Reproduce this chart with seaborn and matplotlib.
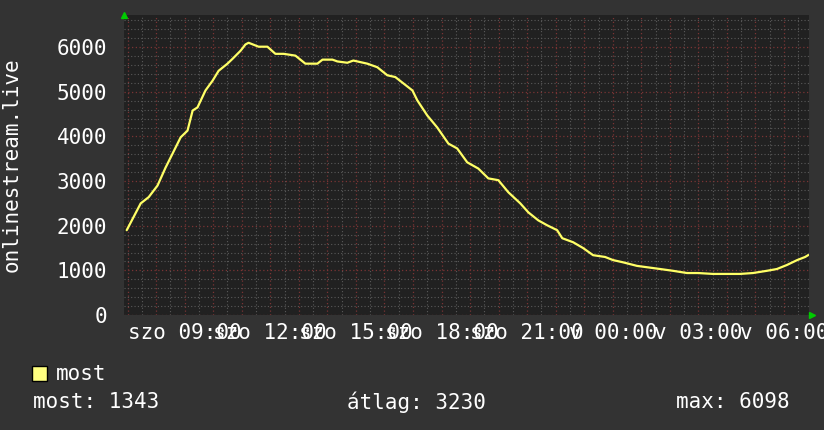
import matplotlib.pyplot as plt
import matplotlib.patches as mpatches
import seaborn as sns
import pandas as pd

# hours since Saturday 00:00 (szo = Saturday, v = Sunday)
hours = [6.97, 7.46, 7.74, 8.05, 8.33, 8.58, 8.86, 9.10, 9.28, 9.45, 9.73, 9.98,
         10.19, 10.50, 10.68, 10.96, 11.13, 11.24, 11.59, 11.90, 12.18, 12.47, 12.88,
         13.23, 13.65, 13.83, 14.18, 14.35, 14.70, 14.91, 15.40, 15.75, 16.10, 16.38,
         16.66, 16.98, 17.15, 17.50, 17.85, 18.24, 18.55, 18.90, 19.29, 19.64, 19.99,
         20.34, 20.76, 21.04, 21.39, 21.70, 22.05, 22.23, 22.61, 22.96, 23.31, 23.73,
         24.01, 24.36, 24.85, 25.20, 25.66, 26.11, 26.60, 26.99, 27.51, 28.00, 28.46,
         28.91, 29.40, 29.75, 30.10, 30.46, 30.74, 30.85]
viewers = [1900, 2500, 2640, 2900, 3300, 3620, 3980, 4130, 4580, 4650, 5030, 5250,
           5470, 5630, 5740, 5920, 6060, 6098, 6010, 6010, 5850, 5850, 5810,
           5630, 5630, 5720, 5720, 5680, 5650, 5700, 5630, 5550, 5370, 5330,
           5190, 5030, 4810, 4470, 4200, 3840, 3730, 3420, 3280, 3060, 3020,
           2750, 2500, 2300, 2120, 2010, 1900, 1720, 1630, 1500, 1340, 1300,
           1230, 1180, 1100, 1070, 1030, 990, 940, 940, 920, 920, 920,
           940, 990, 1030, 1120, 1230, 1300, 1343]

tick_hours = list(range(7, 31))
label_map = {9: "szo 09:00", 12: "szo 12:00", 15: "szo 15:00", 18: "szo 18:00",
             21: "szo 21:00", 24: "v 00:00", 27: "v 03:00", 30: "v 06:00"}
tick_labels = [label_map.get(h, "") for h in tick_hours]

series_name = "most"
stat_now = 1343
stat_avg = 3230
stat_max = 6098
y_label = "onlinestream.live"

bg = "#333333"
plot_bg = "#212121"
line_color = "#ffff66"

sns.set_theme(style="dark", rc={"figure.facecolor": bg, "axes.facecolor": plot_bg})
plt.rcParams["font.family"] = ["DejaVu Sans Mono"]

df = pd.DataFrame({"hour": hours, "viewers": viewers})

fig = plt.figure(figsize=(8.24, 4.30), dpi=100)
ax = fig.add_axes([124 / 824, 115 / 430, 685 / 824, 300 / 430])

# grid: grey dotted minor, red dotted major
ax.set_xticks(tick_hours)
ax.set_xticklabels(tick_labels)
ax.set_xticks([h + 0.5 for h in range(6, 31)], minor=True)
ax.set_yticks(range(0, 7000, 1000))
ax.set_yticks(range(0, 6800, 200), minor=True)
ax.grid(which="minor", color="#5a5a5a", linestyle=(0, (1, 2)), linewidth=0.8)
ax.grid(which="major", color="#7a3434", linestyle=(0, (1, 2)), linewidth=0.9)
ax.set_axisbelow(True)

sns.lineplot(data=df, x="hour", y="viewers", ax=ax, color=line_color,
             linewidth=1.6, legend=False)

ax.set_xlim(6.875, 30.875)
ax.set_ylim(0, 6720)
ax.set_xlabel("")
ax.set_ylabel("")
for s in ax.spines.values():
    s.set_visible(False)

ax.tick_params(axis="both", which="both", length=0, colors="white", labelsize=15)
ax.tick_params(axis="y", pad=12)
ax.tick_params(axis="x", pad=6)

# green arrows at axis ends
ax.plot([0], [1.0], marker="^", color="#00cc00", markersize=5,
        transform=ax.transAxes, clip_on=False)
ax.plot([1.005], [0], marker=">", color="#00cc00", markersize=5,
        transform=ax.transAxes, clip_on=False)

fig.text(12 / 824, 1 - 165 / 430, y_label, rotation=90, ha="center", va="center",
         color="white", fontsize=15)

# legend and stats
fig.add_artist(mpatches.Rectangle((32 / 824, 1 - 381 / 430), 15 / 824, 15 / 430,
                                  transform=fig.transFigure, facecolor="#ffff80",
                                  edgecolor="black", linewidth=1))
fig.text(56 / 824, 1 - 374 / 430, series_name, color="white", fontsize=15,
         va="center", ha="left")
fig.text(33 / 824, 1 - 402 / 430, f"most: {stat_now}", color="white", fontsize=15,
         va="center", ha="left")
fig.text(347 / 824, 1 - 402 / 430, f"átlag: {stat_avg}", color="white", fontsize=15,
         va="center", ha="left")
fig.text(790 / 824, 1 - 402 / 430, f"max: {stat_max}", color="white", fontsize=15,
         va="center", ha="right")

fig.savefig("out.png", dpi=100, facecolor=bg)
